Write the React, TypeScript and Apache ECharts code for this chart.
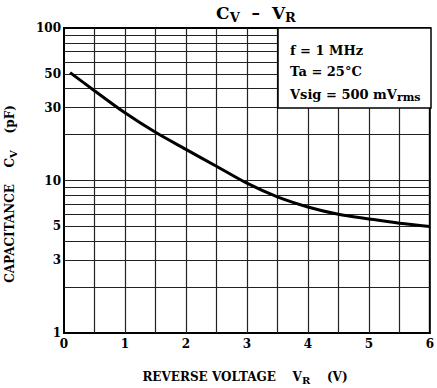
import React, { useEffect, useRef } from "react";
import * as echarts from "echarts";

const voltage = [0.1, 0.5, 1, 1.5, 2, 2.5, 3, 3.5, 4, 4.5, 5, 5.5, 6];
const capacitance = [51, 38.8, 27.8, 20.7, 16.0, 12.4, 9.6, 7.8, 6.7, 6.0, 5.6, 5.25, 5.0];
const yLabels = [1, 3, 5, 10, 30, 50, 100];
const hGrid = [2, 3, 4, 5, 6, 7, 8, 9, 10, 20, 30, 40, 50, 60, 70, 80, 90];
const vGrid = [0.5, 1, 1.5, 2, 2.5, 3, 3.5, 4, 4.5, 5, 5.5];
const conditions = ["f = 1 MHz", "Ta = 25°C", "Vsig = 500 mV{s|rms}"];

const FONT = "DejaVu Serif";

export default function App() {
  const ref = useRef<HTMLDivElement>(null);
  useEffect(() => {
    const chart = echarts.init(ref.current!, null, { renderer: "svg" });
    const sub = { fontFamily: FONT, fontWeight: "bold", fontSize: 10, padding: [6, 0, 0, 0], fill: "#000" };
    const lineY = [50, 71, 94];
    chart.setOption({
      animation: false,
      backgroundColor: "#fff",
      grid: { left: 64, right: 6, top: 28, bottom: 55, show: true, borderColor: "#000", borderWidth: 2 },
      xAxis: {
        type: "value",
        min: 0,
        max: 6,
        interval: 1,
        axisLine: { show: true, lineStyle: { color: "#000", width: 2 } },
        axisTick: { show: false },
        splitLine: { show: false },
        axisLabel: { fontFamily: FONT, fontWeight: "bold", fontSize: 12, color: "#000", margin: 5 },
      },
      yAxis: {
        type: "log",
        logBase: 10,
        min: 1,
        max: 100,
        axisLine: { show: true, lineStyle: { color: "#000", width: 2 } },
        axisTick: { show: false },
        splitLine: { show: false },
        axisLabel: {
          fontFamily: FONT,
          fontWeight: "bold",
          fontSize: 12,
          color: "#000",
          margin: 3,
          customValues: yLabels,
        },
      },
      graphic: [
        {
          type: "text",
          x: 256,
          y: 13,
          style: {
            text: "C{t|V}  –  V{t|R}",
            align: "center",
            verticalAlign: "middle",
            font: `bold 17px "${FONT}"`,
            fill: "#000",
            rich: { t: { ...sub, fontSize: 13, padding: [8, 0, 0, 0] } },
          },
        },
        {
          type: "text",
          x: 10,
          y: 194,
          rotation: Math.PI / 2,
          style: {
            text: "CAPACITANCE    C{s|V}    (pF)",
            align: "center",
            verticalAlign: "middle",
            font: `bold 12px "${FONT}"`,
            fill: "#000",
            rich: { s: sub },
          },
        },
        {
          type: "text",
          x: 245,
          y: 377,
          style: {
            text: "REVERSE VOLTAGE    V{s|R}    (V)",
            align: "center",
            verticalAlign: "middle",
            font: `bold 12px "${FONT}"`,
            fill: "#000",
            rich: { s: sub },
          },
        },
        {
          type: "rect",
          z: 100,
          shape: { x: 278, y: 28, width: 153, height: 80 },
          style: { fill: "#fff", stroke: "#000", lineWidth: 1.5 },
        },
        ...conditions.map((t, i) => ({
          type: "text",
          z: 101,
          x: 290,
          y: lineY[i],
          style: {
            text: t,
            align: "left",
            verticalAlign: "middle",
            font: `bold 13px "${FONT}"`,
            fill: "#000",
            rich: { s: { ...sub, fontSize: 11 } },
          },
        })),
      ],
      series: [
        {
          type: "line",
          data: voltage.map((v, i) => [v, capacitance[i]]),
          smooth: 0.3,
          symbol: "none",
          lineStyle: { color: "#000", width: 3 },
          z: 5,
          markLine: {
            silent: true,
            symbol: "none",
            label: { show: false },
            lineStyle: { color: "#222", width: 1.2, type: "solid" },
            data: [
              ...hGrid.map((v) => ({ yAxis: v })),
              ...vGrid.map((v) => ({ xAxis: v })),
            ],
          },
        },
      ],
    });
    return () => chart.dispose();
  }, []);
  return <div ref={ref} style={{ position: "fixed", left: 0, top: 0, width: 437, height: 388 }} />;
}
